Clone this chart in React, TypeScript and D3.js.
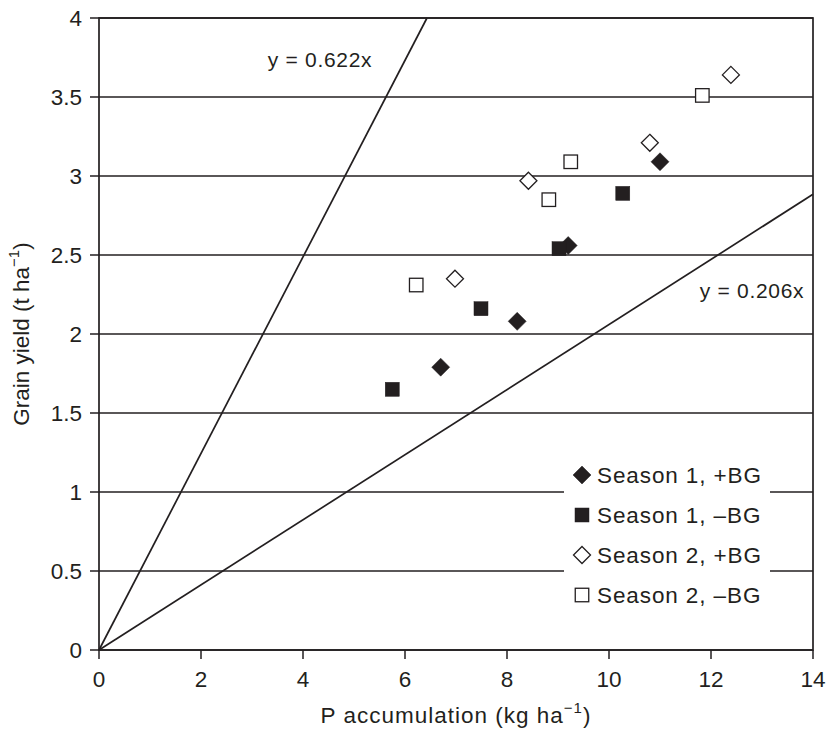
import React, { useEffect } from 'react';
import * as d3 from 'd3';

// data
const s1PlusX = [6.7, 8.2, 9.2, 11.0];
const s1PlusY = [1.79, 2.08, 2.56, 3.09];
const s1MinusX = [5.75, 7.49, 9.02, 10.27];
const s1MinusY = [1.65, 2.16, 2.54, 2.89];
const s2PlusX = [6.98, 8.42, 10.8, 12.39];
const s2PlusY = [2.35, 2.97, 3.21, 3.64];
const s2MinusX = [6.22, 8.82, 9.25, 11.83];
const s2MinusY = [2.31, 2.85, 3.09, 3.51];

const slopes = [0.622, 0.206];
const slopeLabels = ['y = 0.622x', 'y = 0.206x'];
// label anchor (data units)
const labelX = [3.31, 11.78];
const labelY = [3.69, 2.23];

const xTicks = [0, 2, 4, 6, 8, 10, 12, 14];
const yTicks = [0, 0.5, 1, 1.5, 2, 2.5, 3, 3.5, 4];
const legendNames = ['Season 1, +BG', 'Season 1, \u2013BG', 'Season 2, +BG', 'Season 2, \u2013BG'];

const W = 828, H = 729;
const margin = { top: 18, left: 99, right: 15, bottom: 79 };
const ink = '#231f20';
const font = 'Liberation Sans, Arial, Helvetica, sans-serif';

type Kind = 'diamond' | 'square';

const Marker = ({ kind, filled, x, y }: { kind: Kind; filled: boolean; x: number; y: number }) => {
  const fill = filled ? ink : '#fff';
  if (kind === 'square') {
    const s = filled ? 14 : 13.5;
    return <rect x={x - s / 2} y={y - s / 2} width={s} height={s} fill={fill} stroke={ink} strokeWidth={filled ? 0.5 : 1.3} />;
  }
  const r = filled ? 9 : 8.5;
  return (
    <path
      d={`M${x},${y - r}L${x + r},${y}L${x},${y + r}L${x - r},${y}Z`}
      fill={fill}
      stroke={ink}
      strokeWidth={filled ? 0.5 : 1.3}
    />
  );
};

const series = [
  { xs: s1PlusX, ys: s1PlusY, kind: 'diamond' as Kind, filled: true },
  { xs: s1MinusX, ys: s1MinusY, kind: 'square' as Kind, filled: true },
  { xs: s2PlusX, ys: s2PlusY, kind: 'diamond' as Kind, filled: false },
  { xs: s2MinusX, ys: s2MinusY, kind: 'square' as Kind, filled: false },
];

export default function App() {
  useEffect(() => {
    document.body.style.margin = '0';
  }, []);

  const xScale = d3.scaleLinear().domain([0, 14]).range([margin.left, W - margin.right]);
  const yScale = d3.scaleLinear().domain([0, 4]).range([H - margin.bottom, margin.top]);
  const [x0, x1] = xScale.range();
  const [yb, yt] = yScale.range();

  // legend box
  const legX = 564, legY = 455, legW = 206, legH = 160;

  return (
    <svg width={W} height={H} style={{ display: 'block', background: '#fff' }} fontFamily={font}>
      {/* gridlines */}
      {yTicks.map((t) => (
        <line key={'g' + t} x1={x0} x2={x1} y1={yScale(t)} y2={yScale(t)} stroke={ink} strokeWidth={1.4} />
      ))}

      {/* reference lines */}
      {slopes.map((s) => {
        const xe = Math.min(14, 4 / s);
        return (
          <line key={'s' + s} x1={xScale(0)} y1={yScale(0)} x2={xScale(xe)} y2={yScale(s * xe)} stroke={ink} strokeWidth={1.7} />
        );
      })}
      {slopeLabels.map((l, i) => (
        <text key={l} x={xScale(labelX[i])} y={yScale(labelY[i])} fontSize={21} letterSpacing={0.7} fill={ink}>
          {l}
        </text>
      ))}

      {/* legend */}
      <rect x={legX} y={legY} width={legW} height={legH} fill="#fff" />
      {legendNames.map((n, i) => {
        const s = series[i];
        const cy = 475 + i * 40;
        return (
          <g key={n}>
            <Marker kind={s.kind} filled={s.filled} x={582} y={cy} />
            <text x={597} y={cy + 8} fontSize={22.5} fill={ink} letterSpacing={0.9}>
              {n}
            </text>
          </g>
        );
      })}

      {/* points */}
      {series.map((s, si) =>
        s.xs.map((xv, j) => (
          <Marker key={si + '-' + j} kind={s.kind} filled={s.filled} x={xScale(xv)} y={yScale(s.ys[j])} />
        ))
      )}

      {/* frame */}
      <rect x={x0} y={yt} width={x1 - x0} height={yb - yt} fill="none" stroke={ink} strokeWidth={1.7} />

      {/* y axis ticks */}
      {yTicks.map((t) => (
        <g key={'y' + t}>
          <line x1={x0 - 9} x2={x0} y1={yScale(t)} y2={yScale(t)} stroke={ink} strokeWidth={1.5} />
          <text x={x0 - 17} y={yScale(t)} dy="0.35em" textAnchor="end" fontSize={22.5} fill={ink}>
            {t}
          </text>
        </g>
      ))}
      {/* x axis ticks */}
      {xTicks.map((t) => (
        <g key={'x' + t}>
          <line x1={xScale(t)} x2={xScale(t)} y1={yb} y2={yb + 9} stroke={ink} strokeWidth={1.5} />
          <text x={xScale(t)} y={yb + 37} textAnchor="middle" fontSize={22.5} fill={ink}>
            {t}
          </text>
        </g>
      ))}

      {/* axis titles */}
      <text x={(x0 + x1) / 2} y={H - 6} textAnchor="middle" fontSize={22.5} letterSpacing={1} fill={ink}>
        P accumulation (kg ha
        <tspan fontSize={15} dy={-10}>{'\u22121'}</tspan>
        <tspan dy={10}>)</tspan>
      </text>
      <text transform={`translate(29,${(yb + yt) / 2}) rotate(-90)`} textAnchor="middle" fontSize={22.5} fill={ink}>
        Grain yield (t ha
        <tspan fontSize={15} dy={-10}>{'\u22121'}</tspan>
        <tspan dy={10}>)</tspan>
      </text>
    </svg>
  );
}
